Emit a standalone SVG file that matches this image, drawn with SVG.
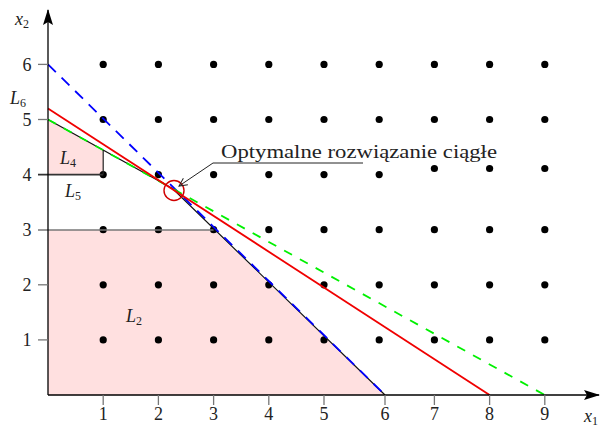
<svg xmlns="http://www.w3.org/2000/svg" width="600" height="430" viewBox="0 0 600 430">
<defs>
<style>
.t{font-family:"Liberation Serif","DejaVu Serif",serif;font-size:18px;fill:#222}
.i{font-style:italic}
.s{font-size:12px;font-style:normal}
.tick{stroke:#777;stroke-width:1.3}
.dot{fill:#000}
</style>
<marker id="ah" viewBox="0 0 16 10" refX="15" refY="5" markerWidth="16" markerHeight="10" markerUnits="userSpaceOnUse" orient="auto"><path d="M0,0 L16,5 L0,10 L3,5 Z" fill="#000"/></marker>
<marker id="oa" viewBox="0 0 10 10" refX="9" refY="5" markerWidth="10" markerHeight="10" markerUnits="userSpaceOnUse" orient="auto"><path d="M1,1 L9,5 L1,9" fill="none" stroke="#222" stroke-width="1"/></marker>
<circle id="d" r="3.6"/>
</defs>
<rect width="600" height="430" fill="#fff"/>
<g id="regions">
<polygon id="L2" points="48,395 48,230 213.6,230 385,395" fill="#ffe0e0"/>
<polygon id="L4" points="48,119.5 103.2,150 103.2,174.6 48,174.6" fill="#ffe0e0"/>
</g>
<g id="dots" class="dot">
<g id="row1"><use href="#d" x="103.2" y="339.9"/><use href="#d" x="158.4" y="339.9"/><use href="#d" x="213.6" y="339.9"/><use href="#d" x="268.8" y="339.9"/><use href="#d" x="324" y="339.9"/><use href="#d" x="379.2" y="339.9"/><use href="#d" x="434.4" y="339.9"/><use href="#d" x="489.6" y="339.9"/><use href="#d" x="544.8" y="339.9"/></g>
<g id="row2"><use href="#d" x="103.2" y="284.8"/><use href="#d" x="158.4" y="284.8"/><use href="#d" x="213.6" y="284.8"/><use href="#d" x="268.8" y="284.8"/><use href="#d" x="324" y="284.8"/><use href="#d" x="379.2" y="284.8"/><use href="#d" x="434.4" y="284.8"/><use href="#d" x="489.6" y="284.8"/><use href="#d" x="544.8" y="284.8"/></g>
<g id="row3"><use href="#d" x="103.2" y="229.7"/><use href="#d" x="158.4" y="229.7"/><use href="#d" x="213.6" y="229.7"/><use href="#d" x="268.8" y="229.7"/><use href="#d" x="324" y="229.7"/><use href="#d" x="379.2" y="229.7"/><use href="#d" x="434.4" y="229.7"/><use href="#d" x="489.6" y="229.7"/><use href="#d" x="544.8" y="229.7"/></g>
<g id="row4"><use href="#d" x="103.2" y="174.6"/><use href="#d" x="158.4" y="174.6"/><use href="#d" x="213.6" y="174.6"/><use href="#d" x="268.8" y="174.6"/><use href="#d" x="324" y="174.6"/><use href="#d" x="379.2" y="174.6"/><use href="#d" x="434.4" y="168.5"/><use href="#d" x="489.6" y="168.5"/><use href="#d" x="544.8" y="168.5"/></g>
<g id="row5"><use href="#d" x="103.2" y="119.5"/><use href="#d" x="158.4" y="119.5"/><use href="#d" x="213.6" y="119.5"/><use href="#d" x="268.8" y="119.5"/><use href="#d" x="324" y="119.5"/><use href="#d" x="379.2" y="119.5"/><use href="#d" x="434.4" y="119.5"/><use href="#d" x="489.6" y="119.5"/><use href="#d" x="544.8" y="119.5"/></g>
<g id="row6"><use href="#d" x="103.2" y="64.4"/><use href="#d" x="158.4" y="64.4"/><use href="#d" x="213.6" y="64.4"/><use href="#d" x="268.8" y="64.4"/><use href="#d" x="324" y="64.4"/><use href="#d" x="379.2" y="64.4"/><use href="#d" x="434.4" y="64.4"/><use href="#d" x="489.6" y="64.4"/><use href="#d" x="544.8" y="64.4"/></g>
</g>
<g id="connectors" fill="none">
<line x1="38" y1="230" x2="213.6" y2="230" stroke="#777" stroke-width="1.6"/>
<line x1="38" y1="174.6" x2="103.2" y2="174.6" stroke="#333" stroke-width="1.6"/>
<line x1="103.2" y1="150" x2="103.2" y2="174.6" stroke="#222" stroke-width="1.2"/>
<polyline points="48,119.5 172.5,188.6 385,395" stroke="#111" stroke-width="1.2"/>
<line x1="48" y1="64.4" x2="385" y2="395" stroke="#0000ff" stroke-width="1.8" stroke-dasharray="11 8"/>
<line x1="48" y1="119.5" x2="544.8" y2="395" stroke="#00f000" stroke-width="1.8" stroke-dasharray="9 9"/>
<line x1="48" y1="108.5" x2="489.6" y2="395" stroke="#f00000" stroke-width="1.8"/>
<circle cx="174" cy="190.5" r="10" stroke="#d00000" stroke-width="1.4"/>
<polyline points="363,163 213,163 179,186" stroke="#222" stroke-width="1" marker-end="url(#oa)"/>
</g>
<g id="axes">
<line x1="48" y1="395" x2="48" y2="10" stroke="#000" stroke-width="1.3" marker-end="url(#ah)"/>
<line x1="48" y1="395" x2="599" y2="395" stroke="#000" stroke-width="1.3" marker-end="url(#ah)"/>
<g class="tick">
<line x1="103.2" y1="395" x2="103.2" y2="405"/><line x1="158.4" y1="395" x2="158.4" y2="405"/><line x1="213.6" y1="395" x2="213.6" y2="405"/><line x1="268.8" y1="395" x2="268.8" y2="405"/><line x1="324" y1="395" x2="324" y2="405"/><line x1="385" y1="395" x2="385" y2="405"/><line x1="434.4" y1="395" x2="434.4" y2="405"/><line x1="489.6" y1="395" x2="489.6" y2="405"/><line x1="544.8" y1="395" x2="544.8" y2="405"/>
<line x1="38" y1="339.9" x2="48" y2="339.9"/><line x1="38" y1="284.8" x2="48" y2="284.8"/><line x1="38" y1="64.4" x2="48" y2="64.4"/><line x1="38" y1="119.5" x2="48" y2="119.5"/>
</g>
</g>
<g id="labels" class="t">
<g text-anchor="middle">
<text x="103.2" y="420">1</text><text x="158.4" y="420">2</text><text x="213.6" y="420">3</text><text x="268.8" y="420">4</text><text x="324" y="420">5</text><text x="385" y="420">6</text><text x="434.4" y="420">7</text><text x="489.6" y="420">8</text><text x="544.8" y="420">9</text>
<text x="27" y="346">1</text><text x="27" y="291">2</text><text x="27" y="236">3</text><text x="27" y="181">4</text><text x="27" y="125.5">5</text><text x="27" y="70.5">6</text>
</g>
<text x="15" y="25" class="i">x<tspan class="s" dy="3">2</tspan></text>
<text x="584" y="422" class="i">x<tspan class="s" dy="3">1</tspan></text>
<text x="10" y="104" class="i">L<tspan class="s" dy="3">6</tspan></text>
<text x="60" y="164" class="i">L<tspan class="s" dy="3">4</tspan></text>
<text x="65" y="197" class="i">L<tspan class="s" dy="3">5</tspan></text>
<text x="126" y="322" class="i">L<tspan class="s" dy="3">2</tspan></text>
<text x="221" y="158" textLength="276" lengthAdjust="spacingAndGlyphs">Optymalne rozwiązanie ciągłe</text>
</g>
</svg>
